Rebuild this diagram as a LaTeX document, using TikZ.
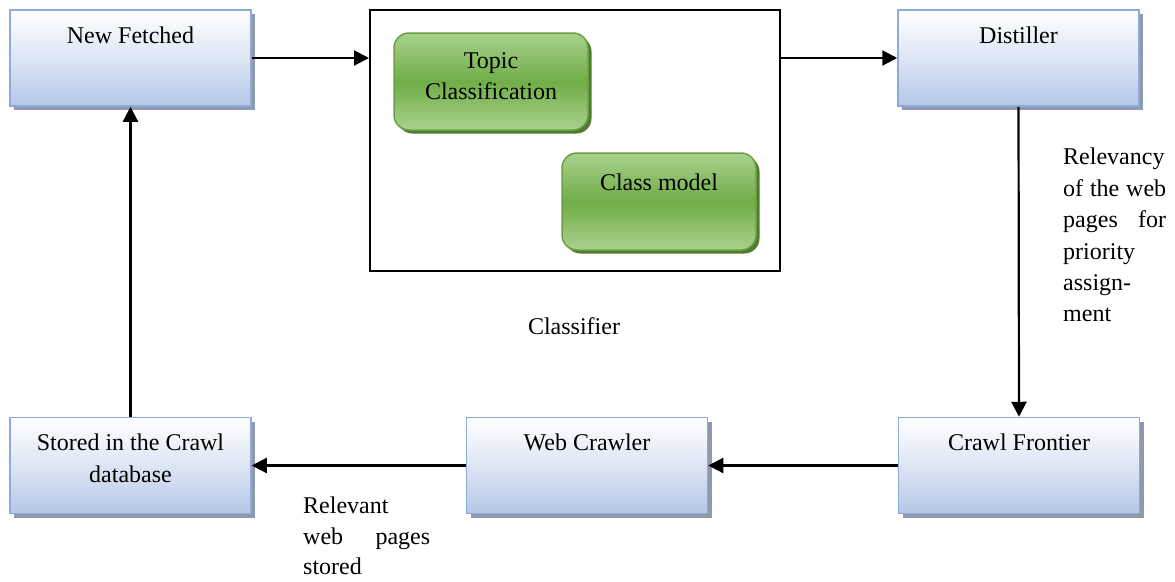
\documentclass[tikz,border=0pt]{standalone}
\usepackage{fontspec}
\setmainfont{Liberation Serif}
\usetikzlibrary{arrows.meta,shadows}

\definecolor{boxtop}{HTML}{FFFFFF}
\definecolor{boxbottom}{HTML}{B4C7E7}
\definecolor{boxedge}{HTML}{8EAADB}
\definecolor{boxshade}{HTML}{8E99AE}
\definecolor{greenlight}{HTML}{A9D18E}
\definecolor{greendark}{HTML}{70AD47}
\definecolor{greenedge}{HTML}{6A9F42}
\definecolor{greenshade}{HTML}{4F7C30}

\tikzset{
  bluebox/.style={
    rectangle, draw=boxedge, line width=1.5pt,
    minimum width=241pt, minimum height=96pt, inner sep=0pt,
    top color=boxtop, bottom color=boxbottom, middle color=boxbottom!45!white,
    drop shadow={shadow xshift=4pt, shadow yshift=-4pt, fill=boxshade, opacity=1},
  },
  greenbox/.style={
    rectangle, rounded corners=15pt, draw=greenedge, line width=1.5pt,
    minimum width=194pt, minimum height=97pt, inner sep=0pt,
    top color=greenlight, bottom color=greenlight, middle color=greendark,
    drop shadow={shadow xshift=3.5pt, shadow yshift=-3.5pt, fill=greenshade, opacity=1},
  },
  boxtext/.style={anchor=north, inner sep=0pt, align=center},
  frame/.style={rectangle, draw=black, line width=2pt, minimum width=410pt,
    minimum height=261pt, inner sep=0pt},
  flow/.style={line width=2.2pt, -{Triangle[length=15pt,width=15pt]}},
  note/.style={anchor=north west, inner sep=0pt, align=left},
}

\begin{document}
\begin{tikzpicture}[x=1pt, y=-1pt, font=\fontsize{24}{31.4}\selectfont]
  \useasboundingbox (0,0) rectangle (1175,581);

  % main stages
  \node[bluebox, label={[boxtext, yshift=-17pt]north:New Fetched}] (nf) at (130.5,58) {};
  \node[bluebox, label={[boxtext, yshift=-17pt]north:Distiller}] (dist) at (1018.5,58) {};
  \node[bluebox, label={[boxtext, yshift=-17pt]north:Stored in the Crawl\\database}] (st) at (130.5,465.5) {};
  \node[bluebox, label={[boxtext, yshift=-17pt]north:Web Crawler}] (wc) at (587,465.5) {};
  \node[bluebox, label={[boxtext, yshift=-17pt]north:Crawl Frontier}] (cf) at (1019,465.5) {};

  % classifier block
  \node[frame] (cls) at (575,140.5) {};
  \node[greenbox, label={[boxtext, yshift=-20pt]north:Topic\\Classification}] (topic) at (491,81.5) {};
  \node[greenbox, label={[boxtext, yshift=-21pt]north:Class model}] (model) at (659,201.5) {};
  \node[inner sep=0pt] (clsname) at (574,326) {Classifier};

  % side notes
  \node[note, text width=103pt] (relnote) at (1063,148)
    {Relevancy\\ of\hfill the\hfill web\\ pages\hfill for\\ priority\\ assign-\\ ment};
  \node[note, text width=127pt, font=\fontsize{24}{30.5}\selectfont] (storenote) at (303,497)
    {Relevant\\ web\hfill pages\\ stored};

  % flow
  \draw[flow] (nf.east) -- (nf.east -| cls.west);
  \draw[flow] (cls.east |- dist.west) -- (dist.west);
  \draw[flow] (dist.south) -- (cf.north);
  \draw[flow] (cf.west) -- (wc.east);
  \draw[flow] (wc.west) -- (st.east);
  \draw[flow] (st.north) -- (nf.south);
\end{tikzpicture}
\end{document}
